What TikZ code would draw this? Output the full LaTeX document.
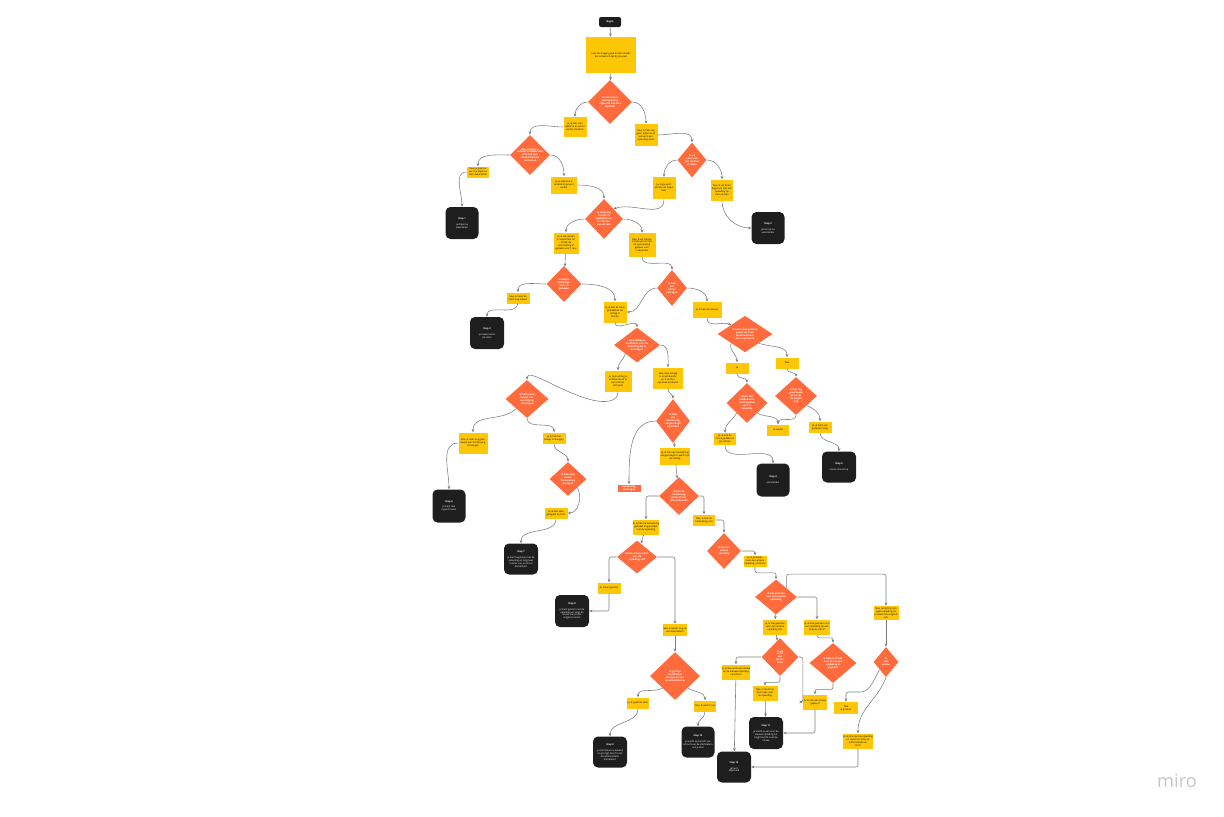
\documentclass[tikz,border=0pt]{standalone}
\usepackage{fontspec}
\setmainfont{Open Sans}
\usetikzlibrary{shapes.geometric,arrows.meta}
\definecolor{stickyyellow}{RGB}{253,199,8}
\definecolor{askorange}{RGB}{255,107,61}
\definecolor{endblack}{RGB}{30,30,30}
\definecolor{linkgray}{RGB}{125,125,125}
\newcommand{\flowfont}{\fontsize{1.7}{2.1}\selectfont}
\tikzset{
  sz/.style 2 args={minimum width=#1*0.25mm,minimum height=#2*0.25mm},
  startbox/.style={fill=endblack,rounded corners=1.5pt,text=white,font=\flowfont\bfseries,inner sep=0pt},
  stepbox/.style={fill=stickyyellow,align=center,inner sep=0pt,font=\flowfont},
  askbox/.style={diamond,fill=askorange,text=white,align=center,inner sep=0pt,font=\flowfont\bfseries},
  notebox/.style={fill=askorange,text=white,align=center,inner sep=0pt,font=\flowfont\bfseries},
  endbox/.style={fill=endblack,rounded corners=3.5pt,text=white,align=center,inner sep=0pt,font=\flowfont},
  flow/.style={draw=linkgray,line width=0.4pt,rounded corners=1.5pt,-{Stealth[length=0.8mm,width=0.7mm]}}
}

\begin{document}
\begin{tikzpicture}[x=0.25mm,y=0.25mm]
  \useasboundingbox (0,0) rectangle (1224,-816);
  % top
  \node[startbox,sz={22}{10}] (begin) at (610,-22) {Begin};
  \node[stepbox,sz={50}{36}] (intro) at (611,-55) {Lees de vragen goed en kies steeds\\het antwoord dat bij jou past};
  \node[askbox,sz={44}{44}] (qdiploma) at (610,-102) {Ik heb al een\\vooropleiding\\afgerond met een\\diploma};
  \node[stepbox,sz={23}{20}] (adiplomaja) at (575,-127) {Ja, ik heb mijn\\diploma en wil nu\\verder studeren};
  \node[stepbox,sz={23}{22}] (adiplomanee) at (646,-135) {Nee, ik heb nog\\geen diploma en\\wil eerst een\\opleiding doen};
  % left branch
  \node[askbox,sz={40}{40}] (qerkend) at (530,-155) {Mijn diploma is\\behaald in Nederland\\of ik heb een\\erkend diploma\\van buiten};
  \node[stepbox,sz={22}{11}] (aerkendnee) at (478,-172) {Nee, je gaat nu\\eerst je diploma\\laten waarderen};
  \node[endbox,sz={33}{32}] (stapeen) at (462,-223) {\textbf{Stap 1}\\[2pt]je diploma\\waarderen};
  \node[stepbox,sz={26}{17}] (aerkendja) at (564,-185) {Ja, je diploma is\\erkend en je kunt\\verder};
  \node[askbox,sz={38}{40}] (qstart) at (604,-219) {Ik wil graag\\starten in\\september of\\in februari\\van dit jaar};
  \node[stepbox,sz={25}{21}] (asept) at (566,-243) {Ja, ik wil starten\\in september en\\ik heb de\\aanmelding al\\gedaan voor 1 mei};
  \node[stepbox,sz={27}{24}] (afeb) at (642,-245) {Nee, ik wil starten\\in februari en heb\\de aanmelding\\gedaan voor\\1 december};
  % right branch
  \node[askbox,sz={29}{35}] (qwerken) at (692,-160) {Ik wil\\eerst een\\jaar werken\\of reizen};
  \node[stepbox,sz={23}{22}] (awerkenja) at (664,-188) {Ja, ik ga eerst\\werken en begin\\later};
  \node[stepbox,sz={22}{21}] (awerkennee) at (722,-190) {Nee, ik wil direct\\beginnen met een\\opleiding op\\mbo-niveau};
  \node[endbox,sz={33}{32}] (staptwee) at (768,-228) {\textbf{Stap 2}\\[2pt]je kunt je nu\\aanmelden};
  % second level
  \node[askbox,sz={35}{36}] (qtoets) at (564,-284) {Ik heb de\\toelatings-\\toets al\\gemaakt};
  \node[stepbox,sz={23}{11}] (atoetsnee) at (518,-298) {Nee, je moet de\\toets nog maken};
  \node[endbox,sz={34}{32}] (stapdrie) at (487,-333) {\textbf{Stap 3}\\[2pt]je maakt eerst\\de toets};
  \node[askbox,sz={30}{36}] (qadvies) at (672,-288) {Ik heb\\een\\advies\\gekregen};
  \node[stepbox,sz={29}{16}] (aadviesja) at (707,-310) {Ja, ik heb een advies};
  \node[stepbox,sz={23}{21}] (atoetsja) at (615,-312) {Ja, ik heb de toets\\gehaald en de\\uitslag is\\binnen};
  \node[askbox,sz={46}{35}] (quitslag) at (637,-345) {Mijn uitslag is\\voldoende voor de\\opleiding die ik\\wil volgen};
  \node[stepbox,sz={27}{21}] (auitslagja) at (618,-381) {Ja, mijn uitslag is\\voldoende en ik\\kan starten\\(of bijna)};
  \node[stepbox,sz={30}{21}] (auitslagnee) at (668,-378) {Nee, mijn uitslag\\is onvoldoende\\en ik wil het\\opnieuw proberen};
  % advies branch
  \node[askbox,sz={55}{36}] (qgesprek) at (745,-334) {Ik heb al een gesprek\\gehad met een\\studieadviseur\\over mijn keuze};
  \node[stepbox,sz={23}{11}] (agesprekja) at (737,-368) {Ja};
  \node[stepbox,sz={23}{11}] (agespreknee) at (787,-363) {Nee};
  \node[askbox,sz={41}{40}] (qcheck) at (747,-403) {Ik heb een\\studiekeuze-\\check gedaan\\voor de\\opleiding};
  \node[askbox,sz={42}{38}] (qtwijfel) at (796,-396) {Ik heb nog\\geen keuze\\gemaakt\\en twijfel\\nog};
  \node[stepbox,sz={22}{12}] (acheckja) at (725,-439) {Ja, ik heb de\\check gedaan en\\ga starten};
  \node[stepbox,sz={22}{11}] (atwijfel) at (778,-430) {Ik twijfel};
  \node[stepbox,sz={23}{11}] (atwijfelja) at (820,-427) {Ja, je hebt een\\gesprek nodig};
  \node[endbox,sz={33}{33}] (stapvier) at (773,-480) {\textbf{Stap 4}\\[2pt]aanmelden};
  \node[endbox,sz={34}{31}] (stapvijf) at (839,-467) {\textbf{Stap 5}\\[2pt]neem contact op};
  % inschrijving
  \node[askbox,sz={43}{38}] (qbewijs) at (527,-399) {Ik heb al een\\bewijs van\\inschrijving\\ontvangen};
  \node[stepbox,sz={29}{21}] (abewijsnee) at (473,-443) {Nee, je hebt nog geen\\bewijs van inschrijving\\ontvangen};
  \node[endbox,sz={33}{33}] (stapzes) at (449,-506) {\textbf{Stap 6}\\[2pt]je bent niet\\ingeschreven};
  \node[stepbox,sz={23}{11}] (abewijsja) at (554,-438) {Ja, ik heb het\\bewijs ontvangen};
  \node[askbox,sz={37}{34}] (qduo) at (568,-479) {Ik heb mijn\\studie-\\financiering\\geregeld};
  \node[stepbox,sz={23}{11}] (aduoja) at (556,-513) {Ja, ik heb alles\\geregeld bij DUO};
  \node[endbox,sz={34}{31}] (stapzeven) at (521,-559) {\textbf{Stap 7}\\[2pt]je kunt beginnen met de\\opleiding en krijgt een\\rooster van je school\\binnenkort};
  % herkansing
  \node[askbox,sz={34}{44}] (qherkans) at (673,-421) {Ik heb\\een\\herkansing\\aangevraagd\\bij school};
  \node[notebox,sz={23}{7}] (wachten) at (629,-488) {Herkansing\\aanvragen};
  \node[stepbox,sz={30}{17}] (aherkansja) at (675,-456) {Ja, ik heb een herkansing\\aangevraagd en wacht op\\de uitslag};
  \node[askbox,sz={40}{38}] (qgehaald) at (679,-496) {Ik heb de\\herkansing\\gehaald met\\een voldoende};
  \node[stepbox,sz={25}{15}] (agehaaldja) at (646,-527) {Ja, ik heb de herkansing\\gehaald en ga verder\\met de opleiding};
  \node[stepbox,sz={22}{11}] (agehaaldnee) at (704,-520) {Nee, ik heb de\\herkansing niet};
  \node[askbox,sz={34}{36}] (qanders) at (724,-551) {Ik wil een\\andere\\opleiding};
  \node[stepbox,sz={23}{11}] (aandersja) at (755,-561) {Ja, ik ga kijken\\naar een andere\\opleiding of school};
  \node[askbox,sz={40}{33}] (qbegonnen) at (637,-557) {Ik ben al begonnen\\met de\\opleiding zelf};
  \node[stepbox,sz={23}{11}] (abegonnenja) at (609,-588) {Ja, ik ben gestart};
  \node[endbox,sz={34}{32}] (stapacht) at (572,-611) {\textbf{Stap 8}\\[2pt]je bent gestart met de\\opleiding en volgt de\\lessen van je klas\\volgens rooster};
  \node[stepbox,sz={24}{12}] (abegonnennee) at (675,-630) {Nee, ik wacht nog op\\een startdatum};
  \node[askbox,sz={50}{48}] (qdoorgeven) at (675,-676) {Ik ga mijn\\startdatum\\doorgeven aan\\de administratie};
  \node[stepbox,sz={22}{11}] (adoorgevenja) at (638,-703) {Ja, ik geef het door};
  \node[endbox,sz={34}{31}] (stapnegen) at (610,-752) {\textbf{Stap 9}\\[2pt]je startdatum is bekend\\en je krijgt bericht van\\de administratie\\binnenkort};
  \node[stepbox,sz={22}{11}] (adoorgevennee) at (705,-706) {Nee, ik wacht nog};
  \node[endbox,sz={33}{31}] (stoptien) at (698,-742) {\textbf{Stap 10}\\[2pt]je wacht op bericht van\\school over de startdatum\\van je klas};
  % andere opleiding
  \node[askbox,sz={42}{35}] (qgekozen) at (776,-597) {Ik heb gekozen\\voor een andere\\opleiding};
  \node[stepbox,sz={25}{14}] (ablijven) at (886,-613) {Nee, ik blijf bij mijn\\eigen opleiding en\\probeer het volgend\\jaar};
  \node[stepbox,sz={24}{15}] (aschool) at (817,-627) {Ja, ik heb gekozen voor\\een opleiding op een\\andere school};
  \node[stepbox,sz={24}{15}] (ahier) at (775,-627) {Ja, ik heb gekozen\\voor een andere\\opleiding hier};
  \node[askbox,sz={37}{38}] (qintake) at (780,-657) {Ik wil\\eerst\\een\\intake\\doen};
  \node[askbox,sz={47}{40}] (qgepland) at (833,-663) {Ik heb de intake\\voor de nieuwe\\opleiding al\\gepland};
  \node[askbox,sz={25}{30}] (qstoppen) at (886,-662) {Ik\\stop\\ermee};
  \node[stepbox,sz={26}{15}] (aintakeja) at (736,-672) {Ja, ik doe eerst een intake\\bij de nieuwe opleiding\\op school};
  \node[stepbox,sz={24}{15}] (agepland) at (815,-702) {Ja, ik heb een intake\\gepland};
  \node[stepbox,sz={25}{15}] (aintakenee) at (765,-693) {Nee, ik meld me\\direct aan voor\\de opleiding};
  \node[endbox,sz={34}{32}] (stapelf) at (766,-733) {\textbf{Stap 11}\\[2pt]je meldt je aan voor de\\nieuwe opleiding en\\krijgt bericht over de\\intake};
  \node[stepbox,sz={25}{15}] (astoppenja) at (858,-741) {Ja, ik stop met de opleiding\\en meld me af bij de\\administratie en\\DUO};
  \node[stepbox,sz={24}{12}] (astoppennee) at (846,-708) {Nee\\ik ga door};
  \node[endbox,sz={34}{31}] (stoptwaalf) at (734,-767) {\textbf{Stap 12}\\[2pt]je bent\\afgemeld};
  \node[text=black!22,font=\fontsize{13}{13}\selectfont] (logo) at (1177,-781) {miro};

  % connectors
  \draw[flow] (begin) -- (intro);
  \draw[flow] (intro) -- (qdiploma);
  \draw[flow] (qdiploma.west) to[out=180,in=90] (adiplomaja.north);
  \draw[flow] (qdiploma.east) to[out=0,in=90] (adiplomanee.north);
  \draw[flow] (adiplomaja.west) to[out=180,in=90] (qerkend.north);
  \draw[flow] (qerkend.west) to[out=180,in=90] (aerkendnee.north);
  \draw[flow] (aerkendnee.west) to[out=180,in=90] (stapeen.north);
  \draw[flow] (qerkend.east) to[out=0,in=90] (aerkendja.north);
  \draw[flow] (aerkendja.east) to[out=0,in=90] (qstart.north);
  \draw[flow] (qstart.west) to[out=180,in=90] (asept.north);
  \draw[flow] (qstart.east) to[out=0,in=90] (afeb.north);
  \draw[flow] (adiplomanee.east) to[out=0,in=90] (qwerken.north);
  \draw[flow] (qwerken.west) to[out=180,in=90] (awerkenja.north);
  \draw[flow] (qwerken.east) to[out=0,in=90] (awerkennee.north);
  \draw[flow] (awerkennee.south) to[out=-90,in=180] (staptwee.west);
  \draw[flow] (awerkenja.south) to[out=-90,in=20] (qstart.north east);
  \draw[flow] (asept) -- (qtoets);
  \draw[flow] (qtoets.west) to[out=180,in=90] (atoetsnee.north);
  \draw[flow] (atoetsnee.south) to[out=-100,in=90] (stapdrie.north);
  \draw[flow] (qtoets.east) to[out=0,in=90] (atoetsja.north);
  \draw[flow] (afeb.south) to[out=-90,in=90] (qadvies.north);
  \draw[flow] (qadvies.west) to[out=180,in=0] (atoetsja.east);
  \draw[flow] (qadvies.east) to[out=0,in=90] (aadviesja.north);
  \draw[flow] (atoetsja.south) to[out=-90,in=90] (quitslag.north);
  \draw[flow] (quitslag.south west) to[out=-110,in=90] (auitslagja.north);
  \draw[flow] (quitslag.east) to[out=0,in=90] (auitslagnee.north);
  \draw[flow] (auitslagja.south) .. controls (618,-402) and (605,-404) .. (585,-398)
    .. controls (555,-388) and (527,-368) .. (qbewijs.north);
  \draw[flow] (aadviesja.south) to[out=-90,in=160] (qgesprek.north west);
  \draw[flow] (qgesprek.south west) to[out=-110,in=90] (agesprekja.north);
  \draw[flow] (qgesprek.south east) to[out=-20,in=90] (agespreknee.north);
  \draw[flow] (agesprekja.south) to[out=-90,in=90] (qcheck.north);
  \draw[flow] (agespreknee.south) to[out=-90,in=90] (qtwijfel.north);
  \draw[flow] (qcheck.south west) to[out=-120,in=90] (acheckja.north);
  \draw[flow] (acheckja.south) to[out=-90,in=90] (stapvier.north);
  \draw[flow] (qcheck.south east) to[out=-30,in=90] (atwijfel.north);
  \draw[flow] (qtwijfel.south) to[out=-90,in=90] (atwijfel.north);
  \draw[flow] (qtwijfel.south east) to[out=-20,in=90] (atwijfelja.north);
  \draw[flow] (atwijfelja.south) to[out=-90,in=90] (stapvijf.north);
  \draw[flow] (qbewijs.south west) to[out=-135,in=90] (abewijsnee.north);
  \draw[flow] (abewijsnee.west) to[out=180,in=90] (stapzes.north);
  \draw[flow] (qbewijs.south) to[out=-90,in=90] (abewijsja.north);
  \draw[flow] (abewijsja.south) to[out=-90,in=90] (qduo.north);
  \draw[flow] (qduo.south east) to[out=-60,in=0] (aduoja.east);
  \draw[flow] (aduoja.south) to[out=-90,in=90] (stapzeven.north);
  \draw[flow] (auitslagnee.south) to[out=-90,in=90] (qherkans.north);
  \draw[flow] (qherkans.west) to[out=180,in=90] (wachten.north);
  \draw[flow] (qherkans) -- (aherkansja);
  \draw[flow] (aherkansja) -- (qgehaald);
  \draw[flow] (qgehaald.west) -| (agehaaldja.north);
  \draw[flow] (qgehaald.east) -| (agehaaldnee.north);
  \draw[flow] (agehaaldnee.east) -| (qanders.north);
  \draw[flow] (qanders.east) -| (aandersja.north);
  \draw[flow] (aandersja.south) -- ++(0,-6) -| (qgekozen.north);
  \draw[flow] (agehaaldja) -- (qbegonnen);
  \draw[flow] (qbegonnen.west) -| (abegonnenja.north);
  \draw[flow] (abegonnenja.south) |- (stapacht.east);
  \draw[flow] (qbegonnen.east) -| (abegonnennee.north);
  \draw[flow] (abegonnennee) -- (qdoorgeven);
  \draw[flow] (qdoorgeven.south west) to[out=-150,in=90] (adoorgevenja.north);
  \draw[flow] (adoorgevenja.south) to[out=-90,in=90] (stapnegen.north);
  \draw[flow] (qdoorgeven.south east) to[out=-30,in=90] (adoorgevennee.north);
  \draw[flow] (adoorgevennee.south) to[out=-90,in=90] (stoptien.north);
  \draw[flow] (qgekozen.north east) -- ++(0,14) -| (ablijven.north);
  \draw[flow] (qgekozen.east) -| (aschool.north);
  \draw[flow] (qgekozen) -- (ahier);
  \draw[flow] (ahier) -- (qintake);
  \draw[flow] (aschool.south) -- ++(0,-3) -| (qgepland.north);
  \draw[flow] (ablijven.south) to[out=-90,in=90] (qstoppen.north);
  \draw[flow] (qintake.west) -| (aintakeja.north);
  \draw[flow] (qintake.east) -- ++(4,0) |- (agepland.west);
  \draw[flow] (qintake.south) -- ++(0,-6) -| (aintakenee.north);
  \draw[flow] (qgepland.south) -- ++(0,-6) -| (agepland.north);
  \draw[flow] (aintakenee) -- (stapelf);
  \draw[flow] (agepland.south) |- (stapelf.east);
  \draw[flow] (aintakeja) -- (stoptwaalf);
  \draw[flow] (qstoppen.south) to[out=-110,in=90] (astoppenja.north);
  \draw[flow] (qstoppen.south west) to[out=-120,in=0] (858,-692) -| (astoppennee.north);
  \draw[flow] (astoppenja.south) |- (stoptwaalf.east);
\end{tikzpicture}
\end{document}
